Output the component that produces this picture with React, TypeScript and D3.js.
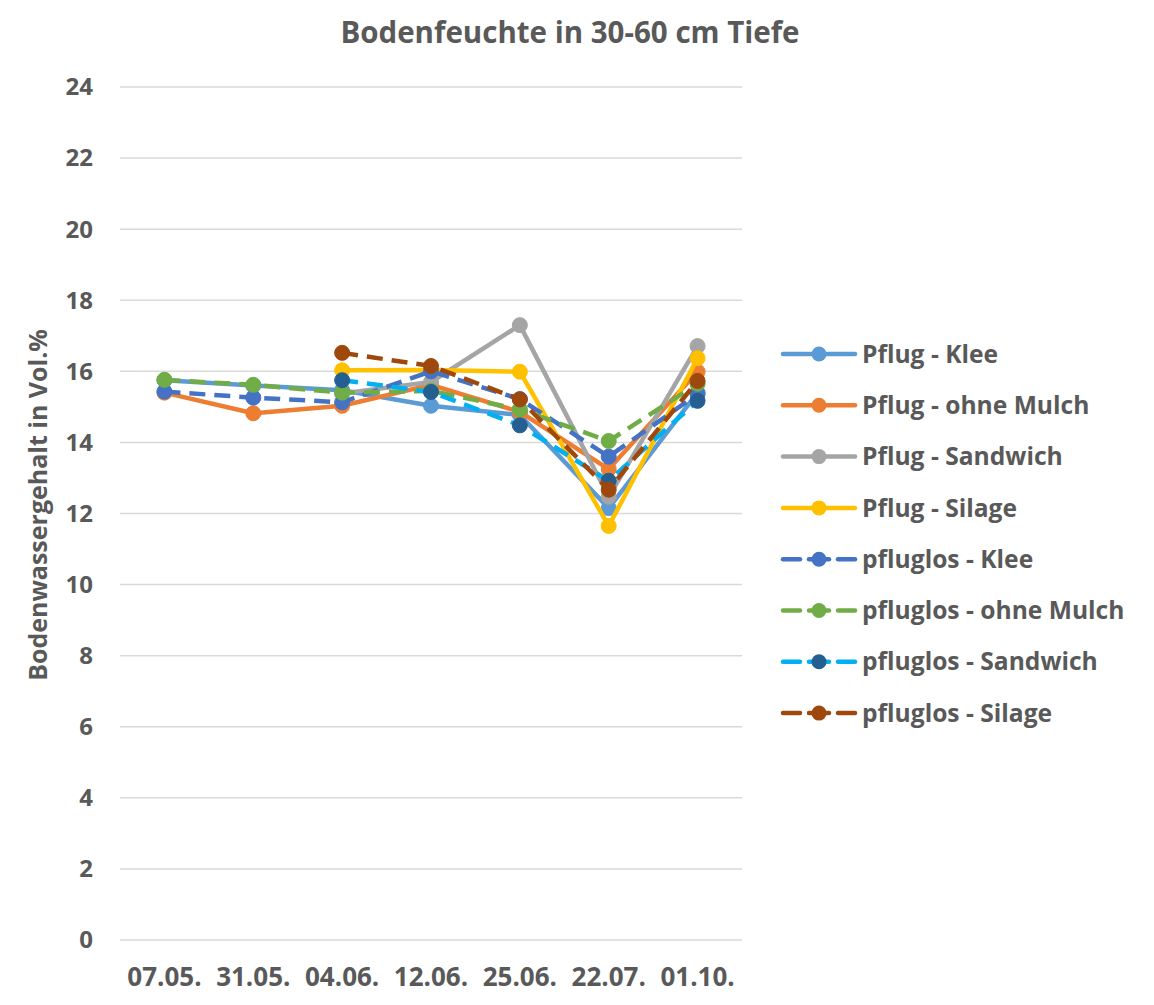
import React from "react";
import * as d3 from "d3";

const categories = ["07.05.", "31.05.", "04.06.", "12.06.", "25.06.", "22.07.", "01.10."];
const yTicks = [0, 2, 4, 6, 8, 10, 12, 14, 16, 18, 20, 22, 24];

const pflugKlee = [15.75, 15.6, 15.47, 15.03, 14.77, 12.15, 15.4];
const pflugOhneMulch = [15.4, 14.82, 15.03, 15.62, 14.86, 13.25, 15.99];
const pflugSandwich = [null, null, 15.38, 15.7, 17.3, 12.47, 16.71];
const pflugSilage = [null, null, 16.03, 16.04, 15.99, 11.65, 16.37];
const pfluglosKlee = [15.43, 15.26, 15.13, 16.0, 15.22, 13.6, 15.36];
const pfluglosOhneMulch = [15.76, 15.62, 15.4, 15.45, 14.93, 14.04, 15.65];
const pfluglosSandwich = [null, null, 15.75, 15.42, 14.48, 12.92, 15.17];
const pfluglosSilage = [null, null, 16.52, 16.15, 15.21, 12.67, 15.73];

const seriesNames = [
  "Pflug - Klee",
  "Pflug - ohne Mulch",
  "Pflug - Sandwich",
  "Pflug - Silage",
  "pfluglos - Klee",
  "pfluglos - ohne Mulch",
  "pfluglos - Sandwich",
  "pfluglos - Silage",
];
const seriesValues = [
  pflugKlee,
  pflugOhneMulch,
  pflugSandwich,
  pflugSilage,
  pfluglosKlee,
  pfluglosOhneMulch,
  pfluglosSandwich,
  pfluglosSilage,
];
const lineColors = ["#5B9BD5", "#ED7D31", "#A5A5A5", "#FFC000", "#4472C4", "#70AD47", "#00B0F0", "#9E480E"];
const markerColors = ["#5B9BD5", "#ED7D31", "#A5A5A5", "#FFC000", "#4472C4", "#70AD47", "#255E91", "#9E480E"];
const dashed = [false, false, false, false, true, true, true, true];

const W = 1154;
const H = 1005;
const font = "'Open Sans', 'Liberation Sans', sans-serif";
const textColor = "#595959";

export default function App() {
  const x = d3.scaleBand<string>().domain(categories).range([120, 742]);
  const y = d3.scaleLinear().domain([0, 24]).range([940, 87]);
  const line = d3
    .line<number | null>()
    .defined((d) => d !== null)
    .x((_, i) => (x(categories[i]) as number) + x.bandwidth() / 2)
    .y((d) => y(d as number));

  const legendX = 783;
  const legendY0 = 354;
  const legendStep = 51.3;

  return (
    <svg
      width={W}
      height={H}
      style={{ position: "absolute", left: 0, top: 0, background: "#fff" }}
    >
      <rect x={0} y={0} width={W} height={H} fill="#fff" />
      <text
        x={570}
        y={43}
        textAnchor="middle"
        fontFamily={font}
        fontWeight="bold"
        fontSize={29.5}
        fill={textColor}
      >
        Bodenfeuchte in 30-60 cm Tiefe
      </text>
      {yTicks.map((t) => (
        <g key={t}>
          <line x1={120} x2={742} y1={y(t)} y2={y(t)} stroke="#D9D9D9" strokeWidth={1.5} />
          <text
            x={93}
            y={y(t)}
            dy="0.35em"
            textAnchor="end"
            fontFamily={font}
            fontWeight="bold"
            fontSize={24}
            fill={textColor}
          >
            {t}
          </text>
        </g>
      ))}
      {categories.map((c) => (
        <text
          key={c}
          x={(x(c) as number) + x.bandwidth() / 2}
          y={986}
          textAnchor="middle"
          fontFamily={font}
          fontWeight="bold"
          fontSize={26}
          fill={textColor}
        >
          {c}
        </text>
      ))}
      <text
        transform={`translate(47,505) rotate(-90)`}
        textAnchor="middle"
        fontFamily={font}
        fontWeight="bold"
        fontSize={25}
        fill={textColor}
      >
        Bodenwassergehalt in Vol.%
      </text>
      {seriesValues.map((vals, si) => (
        <g key={seriesNames[si]}>
          <path
            d={line(vals) || ""}
            fill="none"
            stroke={lineColors[si]}
            strokeWidth={4.5}
            strokeLinejoin="round"
            strokeLinecap={dashed[si] ? "butt" : "round"}
            strokeDasharray={dashed[si] ? "16,9" : undefined}
          />
          {vals.map((v, i) =>
            v === null ? null : (
              <circle
                key={i}
                cx={(x(categories[i]) as number) + x.bandwidth() / 2}
                cy={y(v)}
                r={7.5}
                fill={markerColors[si]}
                stroke={markerColors[si]}
              />
            )
          )}
        </g>
      ))}
      {seriesNames.map((name, si) => {
        const ly = legendY0 + si * legendStep;
        return (
          <g key={name}>
            {dashed[si] ? (
              <>
                <line x1={legendX} x2={800} y1={ly} y2={ly} stroke={lineColors[si]} strokeWidth={4.5} strokeLinecap="round" />
                <line x1={809} x2={829} y1={ly} y2={ly} stroke={lineColors[si]} strokeWidth={4.5} strokeLinecap="round" />
                <line x1={838} x2={855} y1={ly} y2={ly} stroke={lineColors[si]} strokeWidth={4.5} strokeLinecap="round" />
              </>
            ) : (
              <line x1={legendX} x2={855} y1={ly} y2={ly} stroke={lineColors[si]} strokeWidth={4.5} strokeLinecap="round" />
            )}
            <circle cx={819} cy={ly} r={7.5} fill={markerColors[si]} />
            <text
              x={862}
              y={ly}
              dy="0.35em"
              fontFamily={font}
              fontWeight="bold"
              fontSize={24.6}
              fill={textColor}
            >
              {name}
            </text>
          </g>
        );
      })}
    </svg>
  );
}
